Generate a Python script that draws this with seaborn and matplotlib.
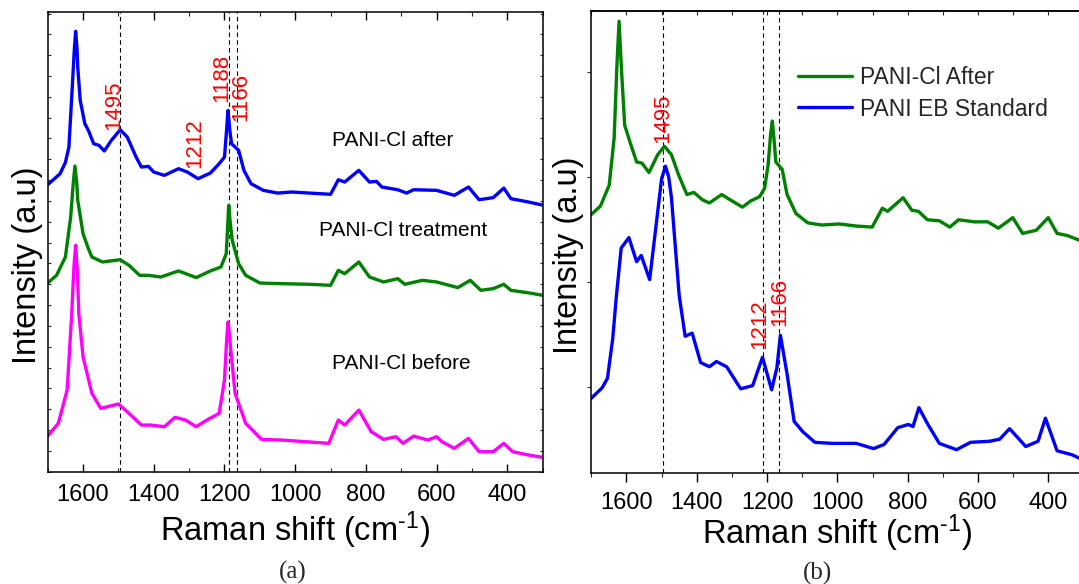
import matplotlib
matplotlib.use("Agg")
import matplotlib.pyplot as plt
from matplotlib.ticker import MultipleLocator, NullFormatter
import seaborn as sns

# ---------------- data ----------------
# Panel (a): Raman shift (cm-1) and intensity (a.u., offset traces)
a_after_w = [1700, 1665, 1650, 1640, 1630, 1625, 1621, 1617, 1615, 1608, 1595, 1585, 1570, 1555,
             1540, 1520, 1495, 1475, 1450, 1435, 1415, 1400, 1370, 1330, 1305, 1275, 1240, 1215,
             1200, 1195, 1190, 1185, 1180, 1160, 1145, 1125, 1090, 1050, 1010, 960, 900, 878,
             860, 820, 790, 770, 755, 710, 685, 665, 600, 550, 510, 480, 440, 410, 390, 340, 300]
a_after_i = [13.78, 14.31, 14.85, 15.59, 18.62, 20.2, 21.15, 20.3, 19.42, 17.83, 16.71, 16.39,
             15.75, 15.67, 15.40, 15.91, 16.42, 16.07, 15.11, 14.63, 14.66, 14.39, 14.23, 14.55,
             14.39, 14.07, 14.34, 14.79, 15.11, 16.2, 17.35, 16.4, 15.75, 15.43, 14.47, 13.83,
             13.51, 13.38, 13.43, 13.38, 13.32, 14.02, 13.91, 14.47, 13.91, 13.94, 13.67, 13.54,
             13.38, 13.54, 13.51, 13.27, 13.67, 13.06, 13.16, 13.62, 13.11, 12.95, 12.80]

a_treat_w = [1700, 1675, 1650, 1635, 1628, 1623, 1618, 1615, 1600, 1585, 1575, 1545, 1495, 1470,
             1440, 1415, 1380, 1330, 1280, 1240, 1210, 1195, 1191, 1188, 1184, 1178, 1160, 1140,
             1100, 1040, 960, 900, 878, 860, 820, 790, 750, 710, 690, 640, 600, 540, 505, 475,
             440, 410, 390, 340, 300]
a_treat_i = [9.06, 9.43, 10.31, 12.23, 13.8, 14.68, 13.9, 13.03, 11.43, 10.71, 10.31, 10.07,
             10.18, 9.91, 9.43, 9.43, 9.35, 9.64, 9.32, 9.64, 9.83, 10.47, 11.8, 12.79, 12.0,
             11.11, 9.99, 9.43, 9.06, 9.03, 9.00, 8.95, 9.67, 9.51, 10.07, 9.35, 9.11, 9.27,
             9.00, 9.19, 9.11, 8.84, 9.19, 8.71, 8.79, 9.00, 8.71, 8.59, 8.47]

a_before_w = [1700, 1670, 1645, 1632, 1626, 1621, 1616, 1612, 1600, 1575, 1550, 1500, 1470, 1435,
              1410, 1370, 1340, 1310, 1280, 1250, 1215, 1200, 1194, 1190, 1186, 1183, 1170, 1140,
              1095, 1040, 970, 905, 878, 860, 820, 785, 750, 715, 695, 665, 625, 600, 585, 550,
              510, 480, 440, 410, 385, 340, 300]
a_before_i = [1.71, 2.32, 3.92, 7.59, 9.8, 10.87, 9.6, 7.59, 5.52, 3.76, 3.04, 3.25, 2.80, 2.24,
              2.24, 2.16, 2.61, 2.48, 2.16, 2.48, 2.80, 4.40, 6.3, 7.19, 6.6, 6.00, 3.76, 2.32,
              1.55, 1.52, 1.44, 1.36, 2.48, 2.24, 2.96, 1.92, 1.55, 1.68, 1.36, 1.71, 1.52, 1.68,
              1.44, 1.12, 1.60, 0.96, 0.96, 1.36, 0.96, 0.80, 0.69]

# Panel (b)
b_after_w = [1700, 1674, 1649, 1635, 1627, 1621, 1615, 1605, 1590, 1571, 1556, 1536, 1511, 1492,
             1472, 1452, 1428, 1408, 1384, 1364, 1329, 1300, 1270, 1246, 1221, 1207, 1197, 1190,
             1185, 1180, 1175, 1157, 1143, 1118, 1084, 1044, 995, 946, 901, 872, 857, 813, 788,
             769, 744, 710, 680, 655, 611, 572, 542, 501, 473, 434, 400, 375, 346, 300]
b_after_i = [1.64, 1.72, 1.92, 2.37, 3.07, 3.48, 3.07, 2.49, 2.33, 2.14, 2.13, 2.04, 2.21, 2.29,
             2.21, 2.02, 1.83, 1.85, 1.78, 1.75, 1.83, 1.77, 1.71, 1.77, 1.81, 1.89, 2.11, 2.40,
             2.53, 2.35, 2.14, 2.07, 1.83, 1.65, 1.56, 1.54, 1.55, 1.53, 1.52, 1.70, 1.67, 1.80,
             1.68, 1.67, 1.59, 1.58, 1.52, 1.59, 1.57, 1.57, 1.51, 1.61, 1.46, 1.49, 1.61, 1.46,
             1.44, 1.38]

b_eb_w = [1700, 1669, 1654, 1639, 1629, 1615, 1593, 1571, 1558, 1534, 1512, 1500, 1489, 1480,
          1472, 1450, 1433, 1413, 1389, 1364, 1344, 1315, 1275, 1241, 1213, 1187, 1172, 1162,
          1143, 1123, 1098, 1064, 1015, 995, 946, 897, 867, 828, 798, 785, 768, 744, 710, 661,
          621, 567, 538, 510, 464, 429, 408, 375, 331, 300]
b_eb_i = [-0.11, -0.01, 0.08, 0.46, 0.85, 1.32, 1.42, 1.19, 1.25, 1.02, 1.64, 1.98, 2.10, 2.00,
          1.80, 0.87, 0.48, 0.51, 0.23, 0.19, 0.24, 0.19, -0.02, 0.01, 0.28, -0.03, 0.18, 0.49,
          0.12, -0.33, -0.43, -0.53, -0.54, -0.54, -0.54, -0.59, -0.55, -0.39, -0.36, -0.38,
          -0.20, -0.35, -0.54, -0.60, -0.53, -0.52, -0.50, -0.40, -0.57, -0.52, -0.30, -0.61,
          -0.65, -0.70]

# annotations
a_marks = [1495, 1188, 1166]
b_marks = [1495, 1212, 1166]
a_peak_labels = ["1495", "1212", "1188", "1166"]
a_peak_pos = [(1512, 17.6), (1285, 15.8), (1208, 18.9), (1153, 18.0)]
a_names = ["PANI-Cl after", "PANI-Cl treatment", "PANI-Cl before"]
a_name_pos = [(725, 15.9), (695, 11.6), (700, 5.2)]
b_peak_labels = ["1495", "1212", "1166"]
b_peak_pos = [(1497, 2.56), (1222, 0.60), (1164, 0.81)]
b_series = ["PANI-Cl After", "PANI EB Standard"]

# ---------------- style ----------------
sns.set_theme(style="ticks")
plt.rcParams["font.family"] = ["Liberation Sans", "DejaVu Sans"]
plt.rcParams["mathtext.fontset"] = "custom"
plt.rcParams["mathtext.rm"] = "Liberation Sans"
plt.rcParams["mathtext.it"] = "Liberation Sans"
plt.rcParams["axes.linewidth"] = 1.1
plt.rcParams["axes.edgecolor"] = "black"

W, H = 1079, 584
fig = plt.figure(figsize=(W / 100, H / 100), dpi=100)

def px_axes(l, t, r, b):
    return fig.add_axes([l / W, 1 - b / H, (r - l) / W, (b - t) / H])

axA = px_axes(47.7, 12.3, 542.7, 471.7)
axB = px_axes(591.3, 10.7, 1083.4, 473.3)

LW = 2.4
TICK_FS = 17
LAB_FS = 23.5
XLABEL = r"Raman shift (cm$^{\text{-}1}$)"

# ---------------- panel (a) ----------------
sns.lineplot(x=a_after_w, y=a_after_i, ax=axA, color="#0000FF", lw=LW, estimator=None)
sns.lineplot(x=a_treat_w, y=a_treat_i, ax=axA, color="#008000", lw=LW, estimator=None)
sns.lineplot(x=a_before_w, y=a_before_i, ax=axA, color="#FF00FF", lw=LW, estimator=None)
for m in a_marks:
    axA.axvline(m, color="black", lw=0.8, ls=(0, (4, 3)), zorder=0)
axA.set_xlim(1700, 300)
axA.set_ylim(0, 22.06)
axA.xaxis.set_major_locator(MultipleLocator(200))
axA.xaxis.set_minor_locator(MultipleLocator(100))
axA.yaxis.set_major_locator(MultipleLocator(1))
axA.yaxis.set_major_formatter(NullFormatter())
axA.tick_params(axis="x", which="major", direction="in", length=6, width=1.0,
                top=True, bottom=True, labelsize=TICK_FS, pad=9, colors="black")
axA.tick_params(axis="x", which="minor", direction="in", length=3, width=0.8, top=True, bottom=True)
axA.tick_params(axis="y", which="major", direction="in", length=2.5, width=0.8,
                left=True, right=True, labelleft=False)
for lab, (xx, yy) in zip(a_peak_labels, a_peak_pos):
    axA.text(xx, yy, lab, color="red", fontsize=16, rotation=90, ha="center", va="center")
for lab, (xx, yy) in zip(a_names, a_name_pos):
    axA.text(xx, yy, lab, color="black", fontsize=15, ha="center", va="center")
axA.set_xlabel(XLABEL, fontsize=LAB_FS, color="black")
axA.set_ylabel("Intensity (a.u)", fontsize=LAB_FS, color="black")
axA.xaxis.set_label_coords(0.5, -0.083)
axA.yaxis.set_label_coords(-0.0095, 0.45)

# ---------------- panel (b) ----------------
sns.lineplot(x=b_after_w, y=b_after_i, ax=axB, color="#008000", lw=LW, estimator=None,
             label=b_series[0])
sns.lineplot(x=b_eb_w, y=b_eb_i, ax=axB, color="#0000FF", lw=LW, estimator=None,
             label=b_series[1])
for m in b_marks:
    axB.axvline(m, color="black", lw=0.8, ls=(0, (4, 3)), zorder=0)
axB.set_xlim(1700, 300)
axB.set_ylim(-0.825, 3.581)
axB.xaxis.set_major_locator(MultipleLocator(200))
axB.xaxis.set_minor_locator(MultipleLocator(100))
axB.yaxis.set_major_locator(MultipleLocator(1))
axB.yaxis.set_major_formatter(NullFormatter())
axB.tick_params(axis="x", which="major", direction="out", length=6.3, width=1.0,
                labelsize=TICK_FS, pad=7, colors="black")
axB.tick_params(axis="x", which="minor", direction="out", length=3.1, width=0.8)
axB.tick_params(axis="y", which="major", direction="out", length=3, width=0.8, labelleft=False)
sec = axB.secondary_xaxis("top")
sec.xaxis.set_major_locator(MultipleLocator(100))
sec.tick_params(direction="in", length=3, width=0.8, labeltop=False)
for lab, (xx, yy) in zip(b_peak_labels, b_peak_pos):
    axB.text(xx, yy, lab, color="red", fontsize=16, rotation=90, ha="center", va="center")
axB.set_xlabel(XLABEL, fontsize=LAB_FS, color="black")
axB.set_ylabel("Intensity (a.u)", fontsize=LAB_FS, color="black")
axB.xaxis.set_label_coords(0.5, -0.084)
axB.yaxis.set_label_coords(-0.0148, 0.472)
axB.legend(loc="upper left", bbox_to_anchor=(0.378, 0.924), frameon=False, fontsize=16.5,
           handlelength=2.36, handletextpad=0.35, labelspacing=0.35, borderpad=0.4)

fig.text(293 / W, 1 - 572 / H, "(a)", fontsize=18, family=["Liberation Serif", "DejaVu Serif"],
         ha="center", va="center")
fig.text(818 / W, 1 - 573 / H, "(b)", fontsize=18, family=["Liberation Serif", "DejaVu Serif"],
         ha="center", va="center")

fig.savefig("out.png", dpi=100)
